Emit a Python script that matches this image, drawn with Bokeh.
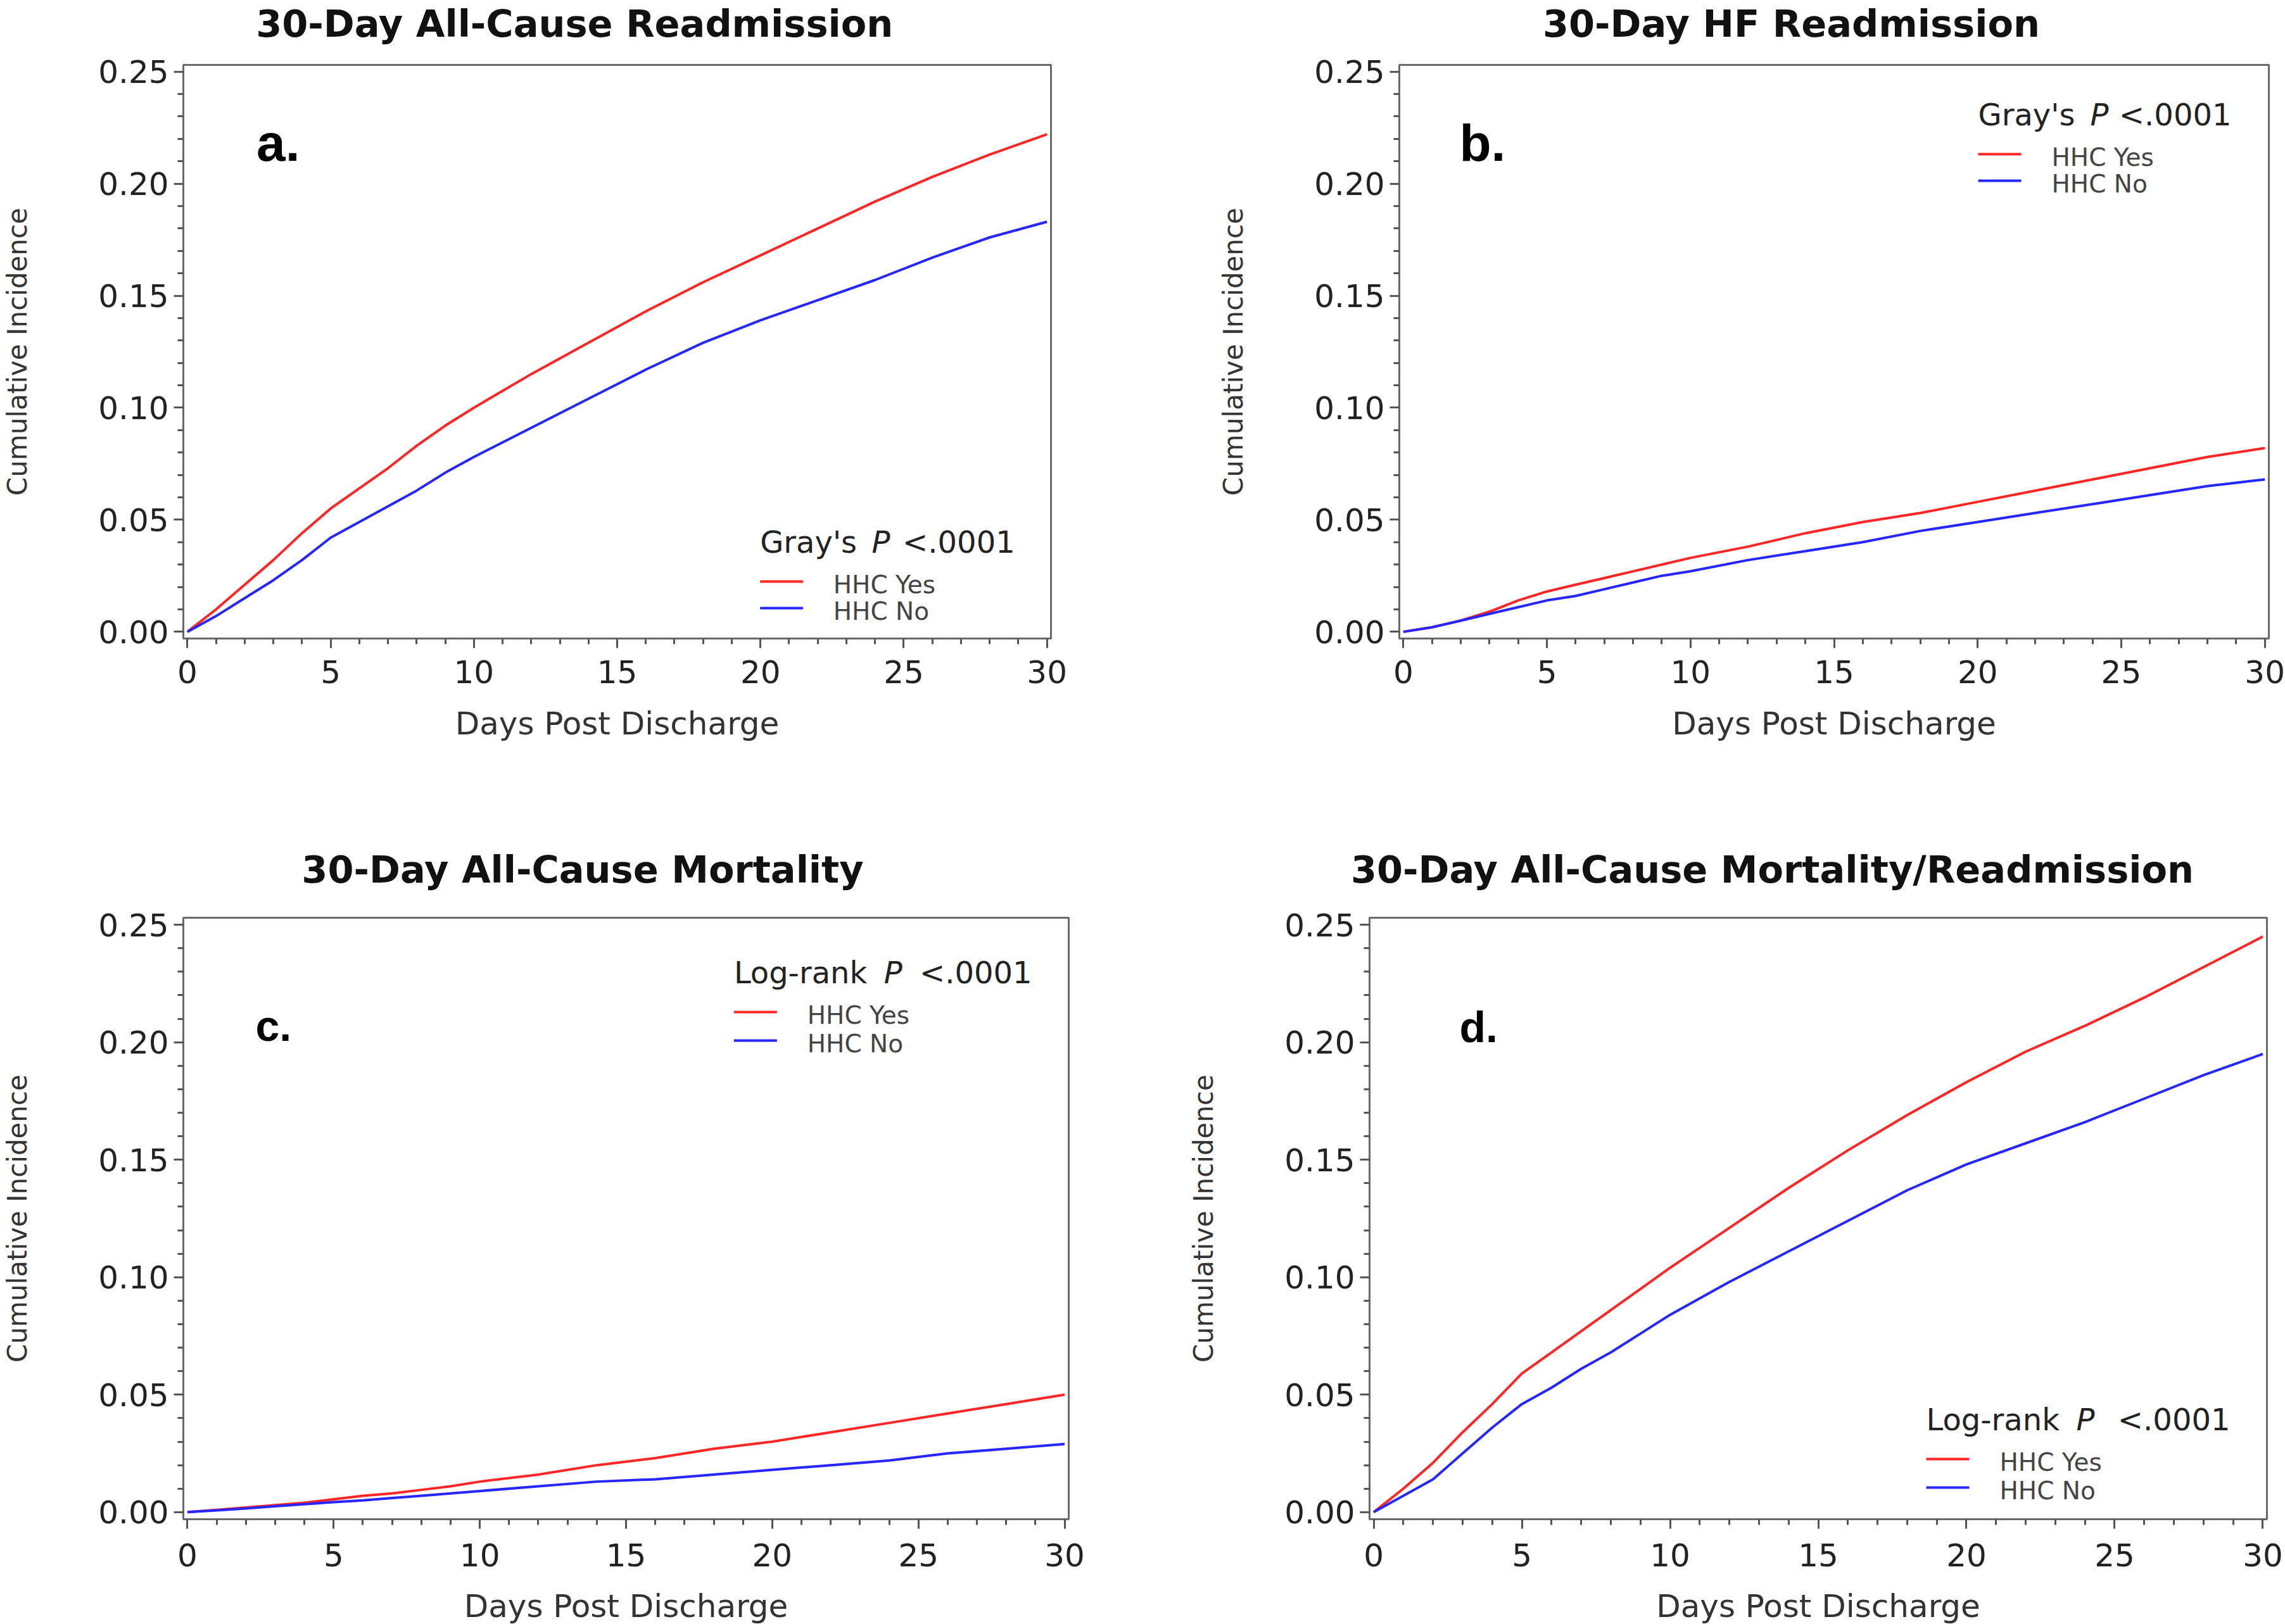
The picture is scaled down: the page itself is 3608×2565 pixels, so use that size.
import math
from bokeh.plotting import figure
from bokeh.layouts import row, column
from bokeh.models import Range1d, SingleIntervalTicker, NumeralTickFormatter, Label
from bokeh.embed import file_html
from bokeh.resources import INLINE

# ---------------- data ----------------
days = [0, 1, 2, 3, 4, 5, 6, 7, 8, 9, 10, 12, 14, 16, 18, 20, 22, 24, 26, 28, 30]

# a. 30-Day All-Cause Readmission
a_yes = [0, 0.010, 0.021, 0.032, 0.044, 0.055, 0.064, 0.073, 0.083, 0.092, 0.100,
         0.115, 0.129, 0.143, 0.156, 0.168, 0.180, 0.192, 0.203, 0.213, 0.222]
a_no = [0, 0.007, 0.015, 0.023, 0.032, 0.042, 0.049, 0.056, 0.063, 0.071, 0.078,
        0.091, 0.104, 0.117, 0.129, 0.139, 0.148, 0.157, 0.167, 0.176, 0.183]
# b. 30-Day HF Readmission
b_yes = [0, 0.002, 0.005, 0.009, 0.014, 0.018, 0.021, 0.024, 0.027, 0.030, 0.033,
         0.038, 0.044, 0.049, 0.053, 0.058, 0.063, 0.068, 0.073, 0.078, 0.082]
b_no = [0, 0.002, 0.005, 0.008, 0.011, 0.014, 0.016, 0.019, 0.022, 0.025, 0.027,
        0.032, 0.036, 0.040, 0.045, 0.049, 0.053, 0.057, 0.061, 0.065, 0.068]
# c. 30-Day All-Cause Mortality
c_yes = [0, 0.001, 0.002, 0.003, 0.004, 0.0055, 0.007, 0.008, 0.0095, 0.011, 0.013,
         0.016, 0.020, 0.023, 0.027, 0.030, 0.034, 0.038, 0.042, 0.046, 0.050]
c_no = [0, 0.0008, 0.0016, 0.0025, 0.0034, 0.0043, 0.005, 0.006, 0.007, 0.008, 0.009,
        0.011, 0.013, 0.014, 0.016, 0.018, 0.020, 0.022, 0.025, 0.027, 0.029]
# d. 30-Day All-Cause Mortality/Readmission
d_yes = [0, 0.010, 0.021, 0.034, 0.046, 0.059, 0.068, 0.077, 0.086, 0.095, 0.104,
         0.121, 0.138, 0.154, 0.169, 0.183, 0.196, 0.207, 0.219, 0.232, 0.245]
d_no = [0, 0.007, 0.014, 0.025, 0.036, 0.046, 0.053, 0.061, 0.068, 0.076, 0.084,
        0.098, 0.111, 0.124, 0.137, 0.148, 0.157, 0.166, 0.176, 0.186, 0.195]

titles = ["30-Day All-Cause Readmission", "30-Day HF Readmission",
          "30-Day All-Cause Mortality", "30-Day All-Cause Mortality/Readmission"]
letters = ["a.", "b.", "c.", "d."]
test_names = ["Gray's", "Gray's", "Log-rank", "Log-rank"]
p_value = "<.0001"
series_names = ["HHC Yes", "HHC No"]
x_label = "Days Post Discharge"
y_label = "Cumulative Incidence"

# ---------------- styling / layout (page pixels) ----------------
FONT = "DejaVu Sans"
LETTER_FONT = "Liberation Sans"
RED = "#ff2626"
BLUE = "#2626ff"
FRAME = "#6a6a6a"
X0, X1 = -0.14, 30.14
Y0, Y1 = -0.003, 0.253
BASE_SHIFT = 0.34   # baseline correction (fraction of font size) for labels

layout = [
    dict(left=0, top=0, width=1804, height=1298, fl=284, fr=1659, ft=102, fb=1008,
         tx=904, ty=57, lx=400, ly=253, lsize=82, gx=1198, gy=872, gend=1602, px=1375,
         gap=42, xly=1159, xstand=19),
    dict(left=1804, top=0, width=1804, height=1298, fl=2209, fr=3582, ft=102, fb=1008,
         tx=2828, ty=57, lx=2304, ly=253, lsize=82, gx=3123, gy=197, gend=3523, px=3300,
         gap=42, xly=1159, xstand=19),
    dict(left=0, top=1298, width=1804, height=1267, fl=288, fr=1687, ft=1449, fb=2399,
         tx=919, ty=1393, lx=402, ly=1643, lsize=68, gx=1158, gy=1552, gend=1629, px=1395,
         gap=45, xly=2553, xstand=23),
    dict(left=1804, top=1298, width=1804, height=1267, fl=2162, fr=3579, ft=1449, fb=2399,
         tx=2798, ty=1393, lx=2304, ly=1645, lsize=68, gx=3041, gy=2258, gend=3521, px=3278,
         gap=45, xly=2553, xstand=23),
]
series = [(a_yes, a_no), (b_yes, b_no), (c_yes, c_no), (d_yes, d_no)]


def make_panel(i):
    L = layout[i]
    p = figure(width=L["width"], height=L["height"],
               min_border_left=L["fl"] - L["left"],
               min_border_right=L["left"] + L["width"] - L["fr"],
               min_border_top=L["ft"] - L["top"],
               min_border_bottom=L["top"] + L["height"] - L["fb"],
               x_range=Range1d(X0, X1), y_range=Range1d(Y0, Y1),
               output_backend="svg", toolbar_location=None,
               background_fill_color="white", border_fill_color="white")
    p.outline_line_color = FRAME
    p.outline_line_width = 3
    p.xgrid.visible = False
    p.ygrid.visible = False

    p.xaxis.ticker = SingleIntervalTicker(interval=5, num_minor_ticks=5)
    p.yaxis.ticker = SingleIntervalTicker(interval=0.05, num_minor_ticks=5)
    p.yaxis.formatter = NumeralTickFormatter(format="0.00")
    for ax in (p.xaxis[0], p.yaxis[0]):
        ax.axis_line_color = FRAME
        ax.axis_line_width = 3
        ax.major_tick_line_color = "#555555"
        ax.major_tick_line_width = 3
        ax.major_tick_in = 0
        ax.major_tick_out = 15
        ax.minor_tick_line_color = "#555555"
        ax.minor_tick_line_width = 3
        ax.minor_tick_in = 0
        ax.minor_tick_out = 9
        ax.major_label_text_font = FONT
        ax.major_label_text_font_size = "50px"
        ax.major_label_text_color = "#222222"
    p.xaxis.major_label_standoff = L["xstand"]
    p.yaxis.major_label_standoff = 8
    # y axis title
    p.yaxis.axis_label = y_label
    p.yaxis.axis_label_text_font = FONT
    p.yaxis.axis_label_text_font_size = "42px"
    p.yaxis.axis_label_text_font_style = "normal"
    p.yaxis.axis_label_text_color = "#333333"
    p.yaxis.axis_label_standoff = 100

    def dx(px):
        return X0 + (px - L["fl"]) / (L["fr"] - L["fl"]) * (X1 - X0)

    def dy(py):
        return Y1 - (py - L["ft"]) / (L["fb"] - L["ft"]) * (Y1 - Y0)

    def base(py, size):
        # data y for a text whose baseline should sit at page row py
        return dy(py - BASE_SHIFT * size)

    yes, no = series[i]
    p.line(days, yes, line_color=RED, line_width=4, line_join="round")
    p.line(days, no, line_color=BLUE, line_width=4, line_join="round")

    # title (placed in the border above the frame)
    p.add_layout(Label(x=dx(L["tx"]), y=base(L["ty"], 59), text=titles[i], text_font=FONT,
                       text_font_style="bold", text_font_size="59px", text_color="#111111",
                       text_align="center", text_baseline="alphabetic"), "above")
    # x axis title (in the border below the frame)
    p.add_layout(Label(x=dx((L["fl"] + L["fr"]) / 2), y=base(L["xly"], 50), text=x_label,
                       text_font=FONT, text_font_size="50px", text_color="#333333",
                       text_align="center", text_baseline="alphabetic"), "below")
    # panel letter
    p.add_layout(Label(x=dx(L["lx"]), y=base(L["ly"], L["lsize"]), text=letters[i],
                       text_font=LETTER_FONT, text_font_style="bold",
                       text_font_size=f"{L['lsize']}px", text_color="#000000",
                       text_align="left", text_baseline="alphabetic"))

    # legend block
    gx, gy, gap = L["gx"], L["gy"], L["gap"]
    p.add_layout(Label(x=dx(gx), y=base(gy, 48), text=test_names[i], text_font=FONT,
                       text_font_size="48px", text_color="#222222",
                       text_align="left", text_baseline="alphabetic"))
    p.add_layout(Label(x=dx(L["px"]), y=base(gy, 48), text="P", text_font=FONT,
                       text_font_style="italic", text_font_size="48px", text_color="#222222",
                       text_align="left", text_baseline="alphabetic"))
    p.add_layout(Label(x=dx(L["gend"]), y=base(gy, 48), text=p_value, text_font=FONT,
                       text_font_size="48px", text_color="#222222",
                       text_align="right", text_baseline="alphabetic"))
    for k, (name, col) in enumerate(zip(series_names, [RED, BLUE])):
        ly = gy + 46 + k * gap
        p.segment(x0=[dx(gx)], y0=[dy(ly)], x1=[dx(gx + 68)], y1=[dy(ly)],
                  line_color=col, line_width=4)
        p.add_layout(Label(x=dx(gx + 116), y=base(gy + 64 + k * gap, 39), text=name,
                           text_font=FONT, text_font_size="39px", text_color="#444444",
                           text_align="left", text_baseline="alphabetic"))
    return p


panels = [make_panel(i) for i in range(4)]
page = column(row(panels[0], panels[1], spacing=0),
              row(panels[2], panels[3], spacing=0), spacing=0)

open("out.html", "w").write(file_html(page, INLINE))
